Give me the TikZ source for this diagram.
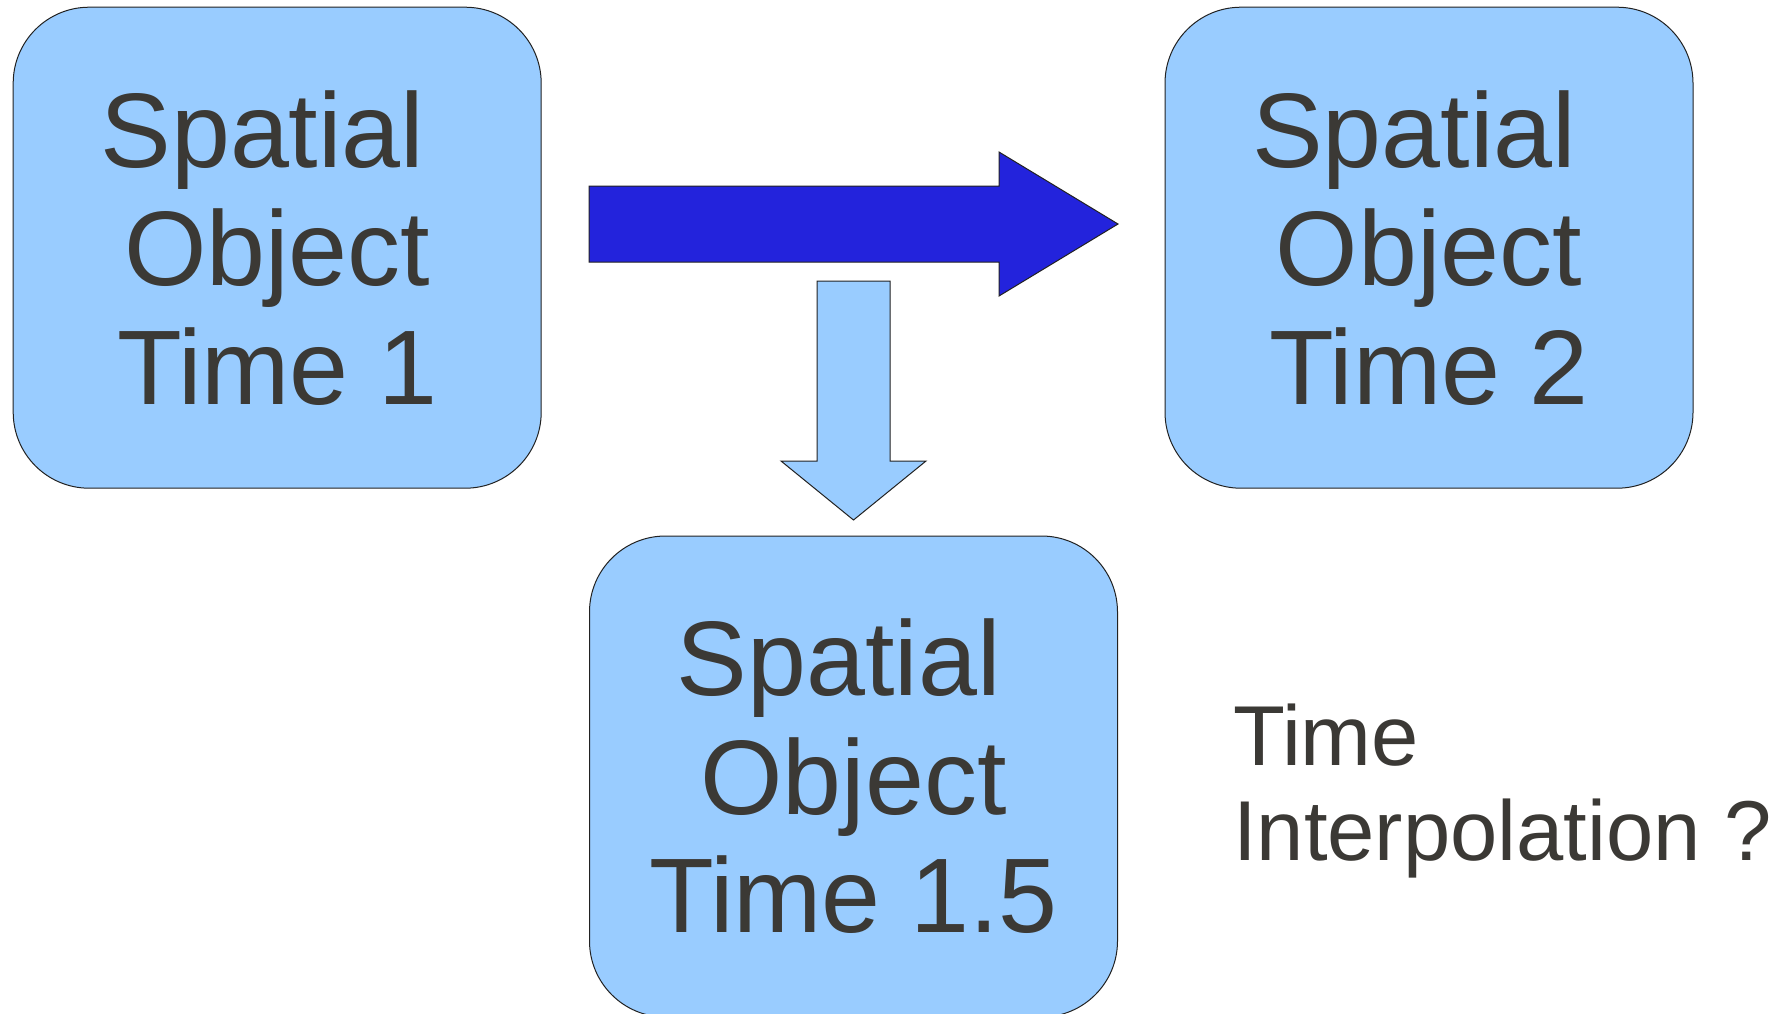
\documentclass[tikz,border=0pt]{standalone}
\usepackage{fontspec}
\setmainfont{Liberation Sans}
\definecolor{boxfill}{HTML}{99CCFF}
\definecolor{arrowblue}{HTML}{2323DC}
\definecolor{txt}{HTML}{3B3935}
\definecolor{outline}{HTML}{222222}
\tikzset{
  objbox/.style={draw=outline, line width=1pt, fill=boxfill, rounded corners=76pt,
    minimum width=528pt, minimum height=481pt, inner sep=0pt, align=center,
    text=txt, font=\fontsize{106}{118.5}\selectfont},
  blockarrow/.style={draw=outline, line width=1pt, line join=miter},
  note/.style={anchor=north west, inner sep=0pt, align=left, text=txt,
    font=\fontsize{85}{95}\selectfont}
}
\begin{document}
\begin{tikzpicture}[x=1pt,y=-1pt]
\useasboundingbox (0,0) rectangle (1791,1013);
\fill[white] (0,0) rectangle (1791,1013);
\begin{scope}
\clip (0,0) rectangle (1791,1013);
\node[objbox] (t1) at (277.2,247.7) {Spatial\hspace*{0.278em}\\Object\\Time 1};
\node[objbox] (t2) at (1429,247.7) {Spatial\hspace*{0.278em}\\Object\\Time 2};
\node[objbox] (t15) at (853.5,776.5) {Spatial\hspace*{0.278em}\\Object\\Time 1.5};
\end{scope}
% horizontal block arrow from Time 1 towards Time 2
\coordinate (hs) at (589,224);
\coordinate (ht) at (1118,224);
\draw[blockarrow, fill=arrowblue]
  ([yshift=38pt]hs) -- (999,186) -- (999,152) -- (ht) -- (999,296) -- (999,262)
  -- ([yshift=-38pt]hs) -- cycle;
% vertical block arrow towards Time 1.5
\coordinate (vs) at (853.5,281);
\coordinate (vt) at (853.5,520);
\draw[blockarrow, fill=boxfill]
  ([xshift=-36.5pt]vs) -- ([xshift=36.5pt]vs) -- (890,461) -- (926,461) -- (vt)
  -- (781,461) -- (817,461) -- cycle;
\node[note] (ti) at (1233,704) {Time\\Interpolation ?};
\end{tikzpicture}
\end{document}
